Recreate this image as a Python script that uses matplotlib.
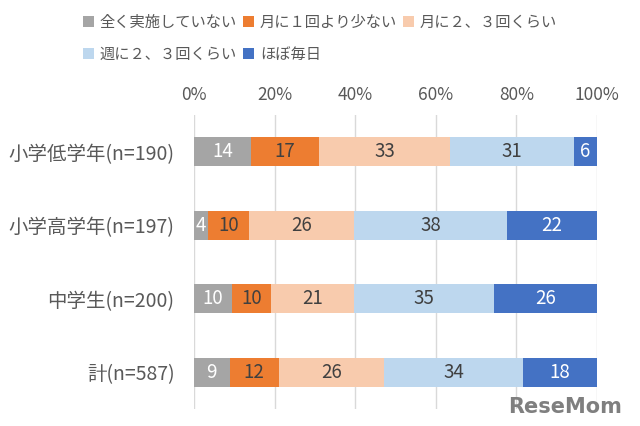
import matplotlib.pyplot as plt
from matplotlib.patches import Patch

plt.rcParams['font.family'] = ['Noto Sans CJK JP', 'DejaVu Sans']

# categories (top to bottom) and series shares in %
groups = ['小学低学年(n=190)', '小学高学年(n=197)', '中学生(n=200)', '計(n=587)']
series = ['全く実施していない', '月に１回より少ない', '月に２、３回くらい', '週に２、３回くらい', 'ほぼ毎日']
none_ = [14.2, 3.6, 9.5, 8.9]
less_monthly = [16.8, 10.1, 9.6, 12.1]
monthly_2_3 = [32.6, 26.0, 20.7, 26.2]
weekly_2_3 = [30.6, 38.0, 34.6, 34.4]
daily = [5.8, 22.3, 25.6, 18.4]
# shown labels (rounded values printed on the bars)
lab_none = [14, 4, 10, 9]
lab_less = [17, 10, 10, 12]
lab_monthly = [33, 26, 21, 26]
lab_weekly = [31, 38, 35, 34]
lab_daily = [6, 22, 26, 18]

colors = ['#A5A5A5', '#ED7D31', '#F8CBAD', '#BDD7EE', '#4472C4']
txt_colors = ['white', '#404040', '#404040', '#404040', 'white']
values = [none_, less_monthly, monthly_2_3, weekly_2_3, daily]
labels = [lab_none, lab_less, lab_monthly, lab_weekly, lab_daily]

fig = plt.figure(figsize=(6.4, 4.26), dpi=100)
ax = fig.add_axes([0.303, 0.040, 0.630, 0.690])

y = list(range(len(groups)))
left = [0.0] * len(groups)
for vals, labs, c, tc in zip(values, labels, colors, txt_colors):
    ax.barh(y, vals, left=left, height=0.4, color=c, zorder=3)
    for i in range(len(groups)):
        ax.text(left[i] + vals[i] / 2, y[i], str(labs[i]), ha='center', va='center',
                color=tc, fontsize=13.5, zorder=4)
    left = [l + v for l, v in zip(left, vals)]

ax.set_xlim(0, 100)
ax.set_ylim(len(groups) - 0.5, -0.5)
ax.set_yticks(y)
ax.set_yticklabels(groups, fontsize=14, color='#595959')
ax.set_xticks([0, 20, 40, 60, 80, 100])
ax.set_xticklabels(['0%', '20%', '40%', '60%', '80%', '100%'], fontsize=12.5, color='#595959')
ax.xaxis.tick_top()
ax.tick_params(length=0, pad=8)
ax.tick_params(axis='y', pad=14)
ax.grid(axis='x', color='#D9D9D9', linewidth=1, zorder=0)
for s in ax.spines.values():
    s.set_visible(False)

handles = [Patch(facecolor=c, edgecolor='none') for c in colors]
order = [0, 3, 1, 4, 2]
fig.legend([handles[i] for i in order], [series[i] for i in order], ncol=3,
           loc='upper left', bbox_to_anchor=(0.108, 1.0), frameon=False,
           fontsize=11, handlelength=0.7, handleheight=0.7, handletextpad=0.4,
           columnspacing=0.4, labelspacing=1.0, labelcolor='#595959')

fig.text(0.972, 0.022, 'ReseMom', ha='right', va='bottom', fontsize=15,
         fontweight='bold', color='#7F7F7F', family='DejaVu Sans')

fig.savefig('out.png', dpi=100)
